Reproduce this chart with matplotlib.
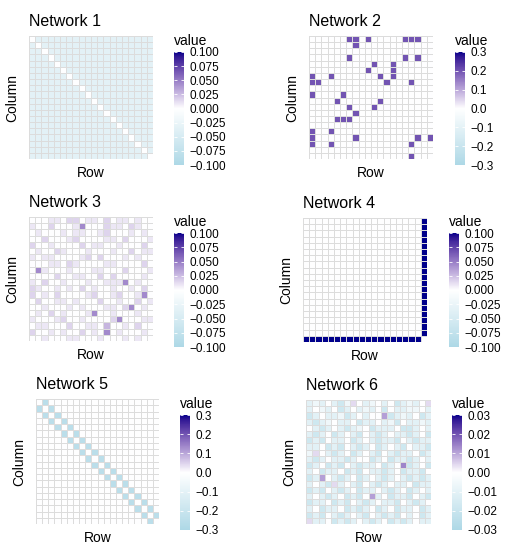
import numpy as np
import matplotlib

matplotlib.use("Agg")
import matplotlib.pyplot as plt
import matplotlib.colors as mcolors

plt.rcParams["font.family"] = ["Liberation Sans", "DejaVu Sans"]

# ---- data: each matrix as 20 row strings, one char per cell ----
titles = ["Network 1", "Network 2", "Network 3", "Network 4", "Network 5", "Network 6"]

net1_rows = [
    "0aaaaaaaaaaaaaaaaaaa", "a0aaaaaaaaaaaaaaaaaa", "aa0aaaaaaaaaaaaaaaaa", "aaa0aaaaaaaaaaaaaaaa",
    "aaaa0aaaaaaaaaaaaaaa", "aaaaa0aaaaaaaaaaaaaa", "aaaaaa0aaaaaaaaaaaaa", "aaaaaaa0aaaaaaaaaaaa",
    "aaaaaaaa0aaaaaaaaaaa", "aaaaaaaaa0aaaaaaaaaa", "aaaaaaaaaa0aaaaaaaaa", "aaaaaaaaaaa0aaaaaaaa",
    "aaaaaaaaaaaa0aaaaaaa", "aaaaaaaaaaaaa0aaaaaa", "aaaaaaaaaaaaaa0aaaaa", "aaaaaaaaaaaaaaa0aaaa",
    "aaaaaaaaaaaaaaaa0aaa", "aaaaaaaaaaaaaaaaa0aa", "aaaaaaaaaaaaaaaaaa0a", "aaaaaaaaaaaaaaaaaaa0",
]
net1_values = {"0": 0.0, "a": -0.035}

net2_rows = [
    "......##.#.....###..", ".......#............", "....................", "......#........#.#..",
    "..........#..#......", ".........#...#......", "#..#.......#.#......", "##..........#...#...",
    "....................", "#....#..............", "....#......#........", "......#...#.........",
    ".......#............", "....###.............", "....................", "#..#................",
    "#......#.........#.#", "#..#............#...", "....................", "................#...",
]
net2_values = {".": 0.0, "#": 0.2}

net3_rows = [
    "00011022011020110100", "10020001400021102100", "01000101100120001010", "00200012000011020001",
    "20010000201100100020", "01002100010001002011", "10110000120200010100", "00011021000011000020",
    "04100010001100020001", "00002001100202000010", "10200100010011140100", "21001010201001001020",
    "20102000012001200140", "02001101000200100201", "00100010100011024010", "01020100014001000100",
    "10001200100002400011", "01100020011030010200", "20010100201040100010", "00100011000100010100",
]
net3_values = {"0": 0.0, "1": 0.009, "2": 0.016, "3": 0.028, "4": 0.045}

net4_rows = [
    "...................#", "...................#", "...................#", "...................#",
    "...................#", "...................#", "...................#", "...................#",
    "...................#", "...................#", "...................#", "...................#",
    "...................#", "...................#", "...................#", "...................#",
    "...................#", "...................#", "...................#", "###################.",
]
net4_values = {".": 0.0, "#": 0.1}

net5_rows = [
    ".#..................", "#.#.................", ".#.#................", "..#.#...............",
    "...#.#..............", "....#.#.............", ".....#.#............", "......#.#...........",
    ".......#.#..........", "........#.#.........", ".........#.#........", "..........#.#.......",
    "...........#.#......", "............#.#.....", ".............#.#....", "..............#.#...",
    "...............#.#..", "................#.#.", ".................#.#", "..................#.",
]
net5_values = {".": 0.0, "#": -0.25}

net6_rows = [
    "bab0bcap0ba0b0cbab0p", "b0ab0cb0bab0c0bbaa0b", "cb0bbacb0b00qcbab0cb", "bcba0bb0cbb0bac0bbab",
    "0bcb0bcba0cbbb0ccb0b", "bcb0cb0bc0bcb0bbcb0c", "cbc0bb0cb0bcbbc0bcbb", "bb0cbc0bcb0cb0bc0bbc",
    "ap0bcb0cb0bc0bcbb0cb", "bcb0bbcb00cb0cbbcb0b", "cb0cbc0bcbb0cb0rcb0c", "b0cbb0cbc0bbcb0cbbc0",
    "cbq0bcb0cb0bcb0bcbcb", "b0bcpb0bc0bcb0bb0cbb", "cbc0bcb0cbb0bcb0cb0b", "b0bcb0cbc0qb0cbbc0bc",
    "cbb0cbc0bcb0bbc0bcb0", "b0cbb0cbcb0cb0cbb0cb", "cbc0bcb0bc0bcbc0b0cb", "pbb0cbcb0bcb0cbcb0bb",
]
net6_values = {"0": 0.0, "a": -0.006, "b": -0.011, "c": -0.018, "p": 0.004, "q": 0.011, "r": 0.014}

limits = [0.1, 0.3, 0.1, 0.1, 0.3, 0.03]
tick_sets = [
    [-0.1, -0.075, -0.05, -0.025, 0.0, 0.025, 0.05, 0.075, 0.1],
    [-0.3, -0.2, -0.1, 0.0, 0.1, 0.2, 0.3],
    [-0.1, -0.075, -0.05, -0.025, 0.0, 0.025, 0.05, 0.075, 0.1],
    [-0.1, -0.075, -0.05, -0.025, 0.0, 0.025, 0.05, 0.075, 0.1],
    [-0.3, -0.2, -0.1, 0.0, 0.1, 0.2, 0.3],
    [-0.03, -0.02, -0.01, 0.0, 0.01, 0.02, 0.03],
]
tick_decimals = [3, 1, 3, 3, 1, 2]

all_rows = [net1_rows, net2_rows, net3_rows, net4_rows, net5_rows, net6_rows]
all_values = [net1_values, net2_values, net3_values, net4_values, net5_values, net6_values]


# ---- diverging palette interpolated in CIELAB (like ggplot's gradient2) ----
WHITE_REF = np.array([0.95047, 1.0, 1.08883])
M = np.array([[0.4124, 0.3576, 0.1805], [0.2126, 0.7152, 0.0722], [0.0193, 0.1192, 0.9505]])
M_INV = np.linalg.inv(M)


def to_lab(c):
    rgb = np.array(mcolors.to_rgb(c))
    lin = np.where(rgb <= 0.04045, rgb / 12.92, ((rgb + 0.055) / 1.055) ** 2.4)
    xyz = M @ lin / WHITE_REF
    f = np.where(xyz > 0.008856, np.cbrt(xyz), 7.787 * xyz + 16 / 116)
    return np.array([116 * f[1] - 16, 500 * (f[0] - f[1]), 200 * (f[1] - f[2])])


def from_lab(lab):
    fy = (lab[0] + 16) / 116
    f = np.array([fy + lab[1] / 500, fy, fy - lab[2] / 200])
    xyz = np.where(f ** 3 > 0.008856, f ** 3, (f - 16 / 116) / 7.787) * WHITE_REF
    lin = M_INV @ xyz
    rgb = np.where(lin <= 0.0031308, 12.92 * lin, 1.055 * np.abs(lin) ** (1 / 2.4) - 0.055)
    return np.clip(rgb, 0, 1)


low, mid, high = to_lab("lightblue"), to_lab("white"), to_lab("darkblue")
cols = []
for t in np.linspace(0, 1, 256):
    if t < 0.5:
        s = t * 2
        cols.append(from_lab(low + (mid - low) * s))
    else:
        s = (t - 0.5) * 2
        cols.append(from_lab(mid + (high - mid) * s))
cmap = mcolors.ListedColormap(cols)

# ---- layout in pixels (left, top, right, bottom) ----
W, H = 512, 550
grid_boxes = [
    (29, 36, 153, 159), (309, 36, 433, 159),
    (29, 217, 153, 341), (303, 218, 427, 342),
    (36, 399, 159, 524), (306, 400, 431, 524),
]
bar_boxes = [
    (174, 52, 184, 165), (455, 52, 465, 165),
    (174, 233, 184, 347), (449, 233, 459, 347),
    (180, 415, 190, 530), (452, 415, 462, 530),
]


def px_axes(fig, box):
    x0, y0, x1, y1 = box
    return fig.add_axes([x0 / W, 1 - y1 / H, (x1 - x0) / W, (y1 - y0) / H])


fig = plt.figure(figsize=(W / 100, H / 100), dpi=100)
fig.patch.set_facecolor("white")

for i in range(6):
    mapping = all_values[i]
    mat = np.array([[mapping[ch] for ch in row] for row in all_rows[i]])
    lim = limits[i]

    ax = px_axes(fig, grid_boxes[i])
    mesh = ax.pcolormesh(mat, cmap=cmap, vmin=-lim, vmax=lim,
                         edgecolors="#dcdcdc", linewidth=0.5)
    ax.set_xlim(0, mat.shape[1])
    ax.set_ylim(mat.shape[0], 0)
    ax.set_xticks([])
    ax.set_yticks([])
    for sp in ax.spines.values():
        sp.set_visible(False)
    ax.set_title(titles[i], loc="left", fontsize=11.5, pad=7)
    ax.set_xlabel("Row", fontsize=10, labelpad=5)
    ax.set_ylabel("Column", fontsize=10, labelpad=7)

    cax = px_axes(fig, bar_boxes[i])
    cb = fig.colorbar(mesh, cax=cax, ticks=tick_sets[i])
    cb.outline.set_visible(False)
    cb.set_ticklabels([f"{v:.{tick_decimals[i]}f}".replace("-", "\u2212") for v in tick_sets[i]])
    cax.tick_params(direction="in", length=2, width=0.6, color="white",
                    left=True, right=True, labelleft=False, labelright=True,
                    labelsize=8.5, pad=4)
    cax.set_title("value", loc="left", fontsize=10, pad=5)

plt.savefig("out.png", dpi=100)
plt.close()
